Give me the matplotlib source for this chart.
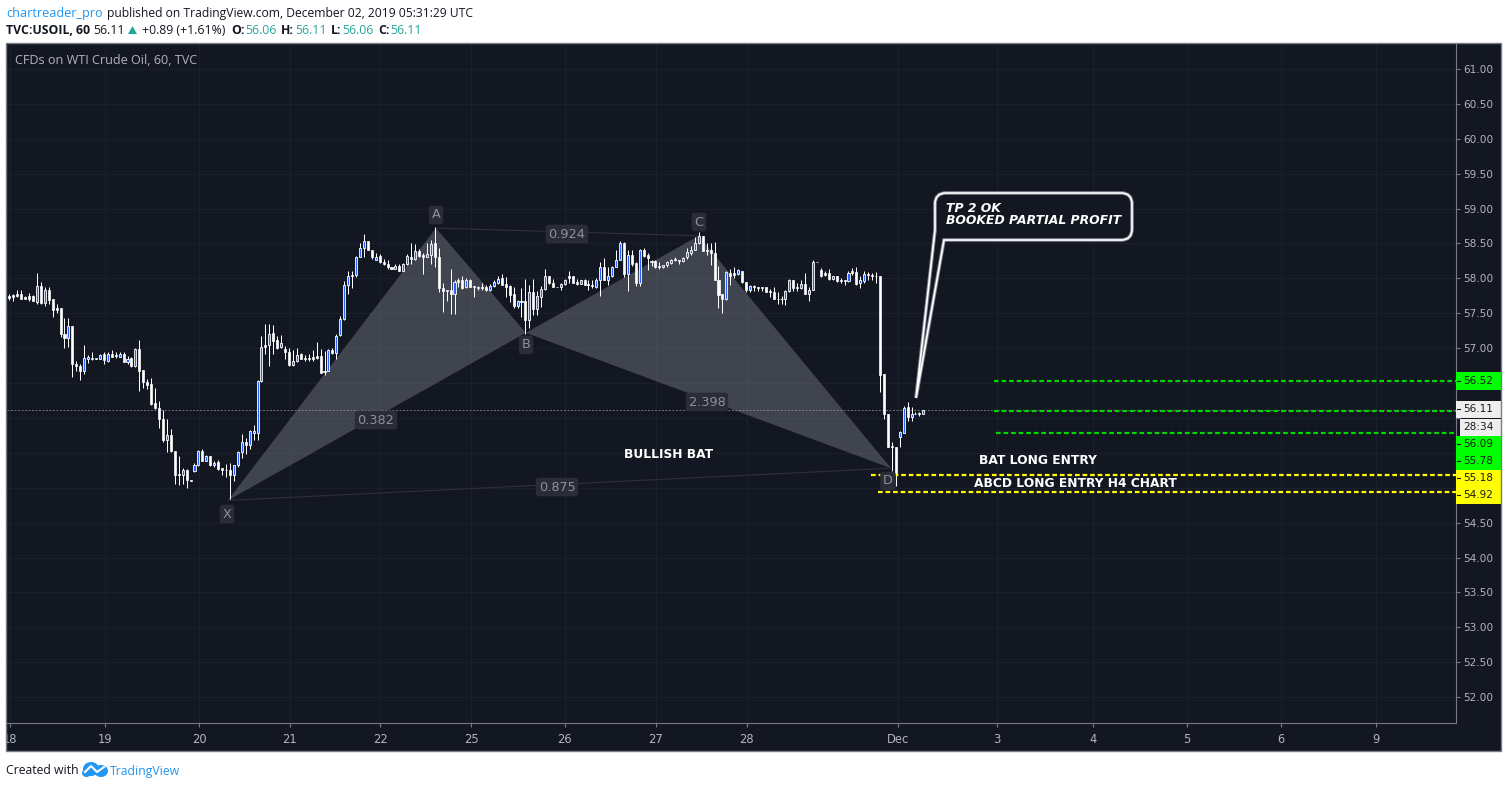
import numpy as np
import matplotlib
matplotlib.use("Agg")
import matplotlib.pyplot as plt
from matplotlib.patches import Rectangle, Polygon, PathPatch, Ellipse
from matplotlib.path import Path

# hourly candles
opens = [
    57.75, 57.76, 57.78, 57.78, 57.74, 57.75, 57.75, 57.66, 57.89, 57.65,
    57.83, 57.70, 57.58, 57.58, 57.20, 57.14, 57.32, 56.77, 56.75, 56.68,
    56.85, 56.86, 56.86, 56.85, 56.91, 56.82, 56.91, 56.90, 56.88, 56.92,
    56.80, 56.86, 56.75, 56.99, 56.69, 56.52, 56.49, 56.21, 56.15, 55.98,
    55.68, 55.75, 55.52, 55.20, 55.19, 55.26, 55.11, 55.24, 55.32, 55.53,
    55.39, 55.46, 55.32, 55.37, 55.28, 55.26, 55.26, 55.19, 55.32, 55.51,
    55.65, 55.61, 55.78, 55.78, 56.53, 57.04, 57.04, 57.22, 57.12, 57.01,
    56.99, 56.95, 56.76, 56.81, 56.91, 56.86, 56.86, 56.87, 56.89, 56.89,
    56.68, 56.68, 56.98, 56.93, 57.19, 57.42, 57.90, 58.05, 58.05, 58.30,
    58.43, 58.53, 58.41, 58.27, 58.32, 58.24, 58.21, 58.17, 58.14, 58.18,
    58.11, 58.20, 58.31, 58.28, 58.39, 58.34, 58.30, 58.34, 58.50, 58.30,
    57.86, 57.83, 57.83, 57.77, 57.97, 57.98, 57.88, 57.98, 57.89, 57.88,
    57.87, 57.88, 57.83, 57.89, 57.94, 58.00, 57.92, 57.89, 57.77, 57.60,
    57.67, 57.67, 57.40, 57.81, 57.56, 57.74, 57.85, 58.03, 57.93, 57.88,
    57.87, 57.92, 58.03, 58.03, 57.95, 57.92, 57.97, 57.92, 57.91, 57.87,
    57.97, 58.17, 57.97, 58.03, 58.16, 58.27, 58.50, 58.06, 58.33, 58.22,
    57.94, 58.41, 58.33, 58.25, 58.25, 58.18, 58.16, 58.19, 58.22, 58.27,
    58.26, 58.25, 58.30, 58.37, 58.40, 58.50, 58.61, 58.41, 58.41, 58.37,
    57.98, 57.77, 57.70, 58.08, 58.07, 58.06, 58.10, 57.95, 57.83, 57.89,
    57.87, 57.88, 57.87, 57.82, 57.81, 57.71, 57.70, 57.70, 57.82, 57.97,
    57.87, 57.86, 57.92, 57.78, 57.84, 58.24, 58.12, 58.07, 58.07, 57.99,
    58.04, 57.97, 57.97, 57.96, 58.10, 58.09, 57.93, 57.96, 58.06, 58.05,
    58.04, 58.04, 56.63, 56.06, 55.60, 55.59, 55.73, 55.79, 56.16, 56.01,
    56.06, 56.06, 56.06,
]
highs = [
    57.78, 57.78, 57.83, 57.84, 57.75, 57.79, 57.76, 58.07, 57.95, 57.88,
    57.87, 57.71, 57.64, 57.58, 57.43, 57.43, 57.32, 56.82, 56.78, 57.04,
    56.90, 56.95, 56.86, 56.92, 56.95, 56.95, 56.97, 56.94, 56.94, 56.95,
    56.89, 56.87, 57.00, 57.12, 56.69, 56.56, 56.57, 56.43, 56.24, 56.12,
    55.98, 55.84, 55.52, 55.46, 55.29, 55.27, 55.11, 55.35, 55.54, 55.55,
    55.47, 55.46, 55.39, 55.40, 55.29, 55.34, 55.36, 55.33, 55.53, 55.77,
    55.71, 55.83, 55.90, 56.54, 57.17, 57.35, 57.35, 57.33, 57.17, 57.19,
    57.03, 57.00, 56.97, 57.00, 56.93, 56.90, 56.92, 56.98, 57.09, 56.99,
    56.96, 56.99, 57.00, 57.21, 57.46, 57.96, 58.11, 58.10, 58.32, 58.50,
    58.64, 58.54, 58.41, 58.36, 58.35, 58.28, 58.26, 58.17, 58.21, 58.20,
    58.22, 58.35, 58.51, 58.49, 58.42, 58.36, 58.50, 58.55, 58.73, 58.43,
    57.94, 57.84, 58.14, 57.97, 58.01, 58.04, 58.01, 57.99, 57.89, 57.89,
    57.94, 57.90, 57.92, 57.97, 58.03, 58.06, 58.02, 57.90, 57.87, 57.69,
    57.86, 57.99, 57.90, 57.99, 57.82, 57.89, 58.13, 58.04, 57.99, 57.88,
    57.93, 57.99, 58.11, 58.04, 57.99, 57.98, 57.99, 57.97, 57.97, 58.00,
    58.24, 58.29, 58.16, 58.18, 58.40, 58.53, 58.52, 58.41, 58.40, 58.23,
    58.42, 58.44, 58.36, 58.27, 58.27, 58.24, 58.19, 58.25, 58.28, 58.31,
    58.27, 58.30, 58.43, 58.46, 58.59, 58.66, 58.61, 58.50, 58.51, 58.52,
    58.18, 57.77, 58.10, 58.14, 58.16, 58.13, 58.11, 57.95, 57.90, 57.90,
    57.87, 57.88, 57.87, 57.85, 57.87, 57.80, 57.75, 57.84, 57.99, 57.98,
    57.93, 57.97, 58.07, 57.88, 58.26, 58.24, 58.15, 58.11, 58.13, 58.04,
    58.04, 58.00, 57.97, 58.10, 58.15, 58.16, 58.04, 58.11, 58.09, 58.08,
    58.09, 58.04, 56.63, 56.06, 55.66, 55.59, 55.82, 56.17, 56.23, 56.16,
    56.08, 56.09, 56.11,
]
lows = [
    57.69, 57.68, 57.73, 57.71, 57.70, 57.68, 57.67, 57.64, 57.63, 57.61,
    57.63, 57.45, 57.51, 57.16, 57.00, 57.02, 56.59, 56.68, 56.54, 56.63,
    56.79, 56.83, 56.85, 56.84, 56.77, 56.80, 56.87, 56.86, 56.87, 56.80,
    56.77, 56.73, 56.73, 56.39, 56.43, 56.42, 56.18, 56.13, 55.86, 55.65,
    55.51, 55.51, 55.05, 55.04, 55.05, 54.99, 55.10, 55.22, 55.31, 55.38,
    55.38, 55.31, 55.30, 55.26, 55.18, 55.15, 54.84, 55.10, 55.30, 55.42,
    55.48, 55.55, 55.69, 55.69, 56.52, 56.92, 56.74, 56.92, 56.99, 57.00,
    56.84, 56.75, 56.75, 56.80, 56.84, 56.81, 56.81, 56.81, 56.85, 56.65,
    56.61, 56.68, 56.92, 56.84, 57.18, 57.40, 57.77, 57.86, 58.02, 58.30,
    58.31, 58.40, 58.28, 58.26, 58.22, 58.19, 58.14, 58.14, 58.13, 58.11,
    58.11, 58.19, 58.20, 58.27, 58.30, 58.06, 58.30, 58.21, 58.16, 57.80,
    57.52, 57.68, 57.49, 57.49, 57.87, 57.85, 57.86, 57.87, 57.74, 57.83,
    57.84, 57.82, 57.82, 57.88, 57.92, 57.90, 57.73, 57.66, 57.58, 57.58,
    57.45, 57.20, 57.29, 57.48, 57.48, 57.59, 57.84, 57.92, 57.87, 57.87,
    57.84, 57.91, 57.93, 57.94, 57.90, 57.92, 57.90, 57.83, 57.86, 57.86,
    57.75, 57.97, 57.90, 58.02, 58.16, 58.26, 58.02, 57.82, 58.18, 57.89,
    57.89, 58.31, 58.12, 58.18, 58.15, 58.14, 58.15, 58.17, 58.21, 58.25,
    58.20, 58.24, 58.28, 58.33, 58.40, 58.49, 58.39, 58.33, 58.19, 57.97,
    57.57, 57.51, 57.69, 57.90, 58.01, 58.05, 57.94, 57.81, 57.81, 57.82,
    57.82, 57.82, 57.81, 57.74, 57.70, 57.64, 57.63, 57.62, 57.81, 57.82,
    57.82, 57.85, 57.77, 57.67, 57.83, 58.23, 58.02, 58.03, 57.98, 57.98,
    57.95, 57.94, 57.91, 57.95, 58.05, 57.91, 57.86, 57.93, 57.97, 57.97,
    57.93, 56.37, 55.98, 55.58, 55.24, 55.03, 55.59, 55.79, 55.96, 55.96,
    56.05, 56.03, 56.06,
]
closes = [
    57.72, 57.74, 57.75, 57.71, 57.71, 57.71, 57.68, 57.89, 57.65, 57.83,
    57.69, 57.55, 57.54, 57.20, 57.14, 57.32, 56.77, 56.74, 56.68, 56.86,
    56.87, 56.84, 56.85, 56.90, 56.83, 56.92, 56.88, 56.89, 56.92, 56.80,
    56.85, 56.75, 56.99, 56.68, 56.51, 56.47, 56.20, 56.14, 55.98, 55.68,
    55.75, 55.52, 55.19, 55.19, 55.26, 55.11, 55.10, 55.32, 55.52, 55.39,
    55.45, 55.32, 55.36, 55.27, 55.26, 55.25, 55.19, 55.32, 55.51, 55.65,
    55.61, 55.81, 55.81, 56.53, 57.02, 57.02, 57.21, 57.11, 57.00, 57.07,
    56.94, 56.76, 56.81, 56.90, 56.85, 56.84, 56.84, 56.85, 56.86, 56.65,
    56.66, 56.98, 56.93, 57.18, 57.42, 57.90, 58.03, 58.03, 58.30, 58.43,
    58.53, 58.40, 58.30, 58.31, 58.23, 58.20, 58.17, 58.14, 58.18, 58.11,
    58.21, 58.32, 58.28, 58.39, 58.32, 58.30, 58.35, 58.49, 58.30, 57.86,
    57.82, 57.82, 57.77, 57.95, 57.95, 57.86, 57.98, 57.87, 57.88, 57.86,
    57.86, 57.83, 57.89, 57.95, 57.99, 57.90, 57.88, 57.76, 57.60, 57.67,
    57.66, 57.40, 57.81, 57.56, 57.75, 57.85, 58.03, 57.93, 57.88, 57.87,
    57.92, 57.98, 58.00, 57.94, 57.92, 57.97, 57.91, 57.90, 57.89, 57.97,
    58.17, 57.97, 58.04, 58.16, 58.27, 58.50, 58.06, 58.33, 58.20, 57.94,
    58.41, 58.32, 58.29, 58.23, 58.16, 58.17, 58.19, 58.23, 58.27, 58.28,
    58.25, 58.29, 58.38, 58.41, 58.50, 58.61, 58.39, 58.39, 58.36, 57.97,
    57.76, 57.70, 58.09, 58.04, 58.05, 58.12, 57.95, 57.83, 57.89, 57.87,
    57.86, 57.86, 57.81, 57.80, 57.71, 57.70, 57.70, 57.82, 57.97, 57.86,
    57.86, 57.92, 57.78, 57.84, 58.24, 58.23, 58.04, 58.05, 57.99, 58.04,
    57.96, 57.96, 57.96, 58.08, 58.07, 57.92, 57.97, 58.06, 58.05, 58.04,
    58.03, 56.62, 56.06, 55.59, 55.58, 55.20, 55.80, 56.15, 56.01, 56.06,
    56.06, 56.07, 56.11,
]

# harmonic pattern points: bar number, price
pattern_names = ["X", "A", "B", "C", "D"]
pattern_bars = [55.5, 108.3, 131.1, 175.0, 223.8]
pattern_prices = [54.82, 58.72, 57.22, 58.61, 55.28]

day_labels = ["18", "19", "20", "21", "22", "25", "26", "27", "28", "Dec",
              "3", "4", "5", "6", "9"]
day_bars = [0.25, 24.4, 48.2, 71.2, 94.1, 117.2, 141.0, 164.1, 187.2, 225.6,
            250.7, 275.0, 298.9, 322.7, 346.8]
price_ticks = [52 + 0.5 * i for i in range(19)]
# these four sit under the coloured price tags
hidden_ticks = [55.0, 55.5, 56.0, 56.5]

green_levels = [56.53, 56.10, 55.78]
green_starts = [250.0, 250.0, 250.4]
yellow_levels = [55.18, 54.94]
yellow_starts = [218.7, 220.5]
last_price = 56.11

BG = "#131722"
GRID = "#1b1f2b"
FRAME = "#787b86"
AXTEXT = "#b2b5be"
TEAL = "#26a69a"
BLUE = "#2196f3"
W, H = 1508, 788


def fx(x):
    return x / W


def fy(y):
    return 1 - y / H


def label(x, y, s, **kw):
    kw.setdefault("family", "Open Sans")
    kw.setdefault("fontsize", 8.8)
    kw.setdefault("va", "center")
    return fig.text(fx(x), fy(y), s, **kw)


fig = plt.figure(figsize=(W / 100, H / 100), dpi=100, facecolor="white")

# dark panel behind chart and both axes
fig.add_artist(Rectangle((fx(6), fy(751)), fx(1495), 708 / H, transform=fig.transFigure,
                         facecolor=BG, edgecolor="none", zorder=-1))

ax = fig.add_axes([fx(7), fy(723), fx(1449), 679 / H])
ax.set_facecolor(BG)
ax.set_xlim(-0.59, 367.2)
ax.set_ylim(51.63, 61.358)

ax.set_xticks(day_bars)
ax.set_xticklabels(day_labels, family="DejaVu Sans", fontsize=8.3, color=AXTEXT)
ax.set_yticks(price_ticks)
ax.set_yticklabels(["" if p in hidden_ticks else "%.2f" % p for p in price_ticks],
                   family="DejaVu Sans", fontsize=7.6, color=AXTEXT)
ax.yaxis.tick_right()
ax.tick_params(axis="x", length=3, width=0.8, color=FRAME, pad=4)
ax.tick_params(axis="y", length=3, width=0.8, color=FRAME, pad=2)
ax.grid(True, color=GRID, linewidth=0.8, zorder=0)
ax.set_axisbelow(True)
ax.spines["top"].set_visible(False)
ax.spines["left"].set_visible(False)
ax.spines["bottom"].set_color(FRAME)
ax.spines["right"].set_color(FRAME)

# last price line
ax.axhline(last_price, color="#6f727c", linewidth=0.7, linestyle=(0, (2, 1.6)), zorder=1)

# bat pattern goes under the candles
pts = list(zip(pattern_bars, pattern_prices))
PFILL = (0.6, 0.61, 0.65, 0.34)
ax.add_patch(Polygon([pts[0], pts[1], pts[2]], closed=True, facecolor=PFILL, edgecolor="none", zorder=1.5))
ax.add_patch(Polygon([pts[2], pts[3], pts[4]], closed=True, facecolor=PFILL, edgecolor="none", zorder=1.5))
for i, j in [(1, 3), (0, 4)]:
    ax.plot([pts[i][0], pts[j][0]], [pts[i][1], pts[j][1]], color="#2e313b", linewidth=0.8, zorder=1.5)

# candles
o = np.array(opens)
h = np.array(highs)
l = np.array(lows)
c = np.array(closes)
bars = np.arange(len(o))
up = c >= o
ax.vlines(bars, l, h, color="white", linewidth=0.72, zorder=2)
ax.bar(bars[~up], (o - c)[~up], bottom=c[~up], width=0.52, color="white",
       edgecolor="white", linewidth=0.5, zorder=3)
ax.bar(bars[up], (c - o)[up], bottom=o[up], width=0.52, color="#2962ff",
       edgecolor="white", linewidth=0.6, zorder=3)

box = dict(boxstyle="round,pad=0.22,rounding_size=0.25", facecolor="#2a2d38", edgecolor="none")
for s, x, y in [("A", 436, 215), ("B", 526, 345), ("C", 699, 222), ("X", 227, 514), ("D", 888, 481),
                ("0.382", 376, 420), ("0.924", 567, 234), ("2.398", 707, 402), ("0.875", 557, 487)]:
    label(x, y, s, family="DejaVu Sans", fontsize=9.3, color="#8e919a", ha="center", bbox=box, zorder=6)

# entry and target levels
dash = (0, (2.1, 1.3))
for lv, st in zip(green_levels, green_starts):
    ax.plot([st, 367.2], [lv, lv], color="#00d800", linewidth=1.6, linestyle=dash, zorder=5)
for lv, st in zip(yellow_levels, yellow_starts):
    ax.plot([st, 367.2], [lv, lv], color="#ffff00", linewidth=1.6, linestyle=dash, zorder=5)

# notes on the chart
label(15, 60, "CFDs on WTI Crude Oil, 60, TVC", fontsize=9.05, color=AXTEXT, zorder=6)
bold = dict(family="DejaVu Sans", fontweight="bold", fontsize=8.85, color="white", ha="center", zorder=6)
label(669, 454, "BULLISH BAT", **bold)
label(1038, 460, "BAT LONG ENTRY", **bold)
label(1075, 484, "ABCD LONG ENTRY H4 CHART", **bold)

# callout
verts = [(946, 193), (1121, 193), (1132, 193), (1132, 204), (1132, 229), (1132, 240), (1121, 240),
         (944, 240), (916, 398), (935, 230), (935, 204), (935, 193), (946, 193)]
codes = [Path.MOVETO, Path.LINETO, Path.CURVE3, Path.CURVE3, Path.LINETO, Path.CURVE3, Path.CURVE3,
         Path.LINETO, Path.LINETO, Path.LINETO, Path.LINETO, Path.CURVE3, Path.CURVE3]
call = Path([(fx(a), fy(b)) for a, b in verts], codes)
fig.add_artist(PathPatch(call, transform=fig.transFigure, facecolor=BG, edgecolor="#80838c", linewidth=2.6, zorder=6))
fig.add_artist(PathPatch(call, transform=fig.transFigure, facecolor="none", edgecolor="white", linewidth=1.2, zorder=6))
note = dict(family="DejaVu Sans", fontweight="bold", style="italic", fontsize=8.95, color="white", zorder=7)
label(946, 209, "TP 2 OK", **note)
label(946, 221, "BOOKED PARTIAL PROFIT", **note)

# price labels on the scale
for y0, y1, col, x0 in [(372, 390, "#00ff00", 1456), (401, 418, "#eeeeee", 1456), (419, 436, "#eeeeee", 1460),
                        (436, 470, "#00ff00", 1456), (470, 504, "#ffff00", 1456)]:
    fig.add_artist(Rectangle((fx(x0), fy(y1)), fx(1501 - x0), (y1 - y0) / H, transform=fig.transFigure,
                             facecolor=col, edgecolor="none", zorder=6))
for y, s in [(381, "56.52"), (409, "56.11"), (427, "28:34"), (444, "56.09"), (461, "55.78"),
             (478, "55.18"), (495, "54.92")]:
    label(1478, y, s, family="DejaVu Sans", fontsize=7.6, color="#1a1a1a", ha="center", zorder=7)
for y in [381, 409, 444, 461, 478, 495]:
    fig.add_artist(plt.Line2D([fx(1457), fx(1460)], [fy(y), fy(y)], transform=fig.transFigure,
                              color="#131722", linewidth=0.8, zorder=7))

# white strip hides the clipped part of the first date, then the frame on top
fig.add_artist(Rectangle((0, fy(751)), fx(6), 28 / H, transform=fig.transFigure, facecolor="white",
                         edgecolor="none", zorder=8))
fig.add_artist(Rectangle((fx(6), fy(751)), fx(1495), 708 / H, transform=fig.transFigure, facecolor="none",
                         edgecolor=FRAME, linewidth=1.0, zorder=9))

# header
label(6, 13, "chartreader_pro", color=BLUE, fontsize=9.1)
label(107, 13, "published on TradingView.com, December 02, 2019 05:31:29 UTC", color="#131722", fontsize=8.75)
label(6, 30, "TVC:USOIL, 60", color="#131722", fontweight="bold")
label(93, 30, "56.11", color="#131722")
fig.add_artist(Polygon([(fx(128), fy(34)), (fx(137), fy(34)), (fx(132.5), fy(26))], transform=fig.transFigure,
                       facecolor=TEAL, edgecolor="none"))
label(142, 30, "+0.89 (+1.61%)", color="#131722")
for x, s in [(231, "O:"), (281, "H:"), (331, "L:"), (378, "C:")]:
    label(x, 30, s, color="#131722", fontweight="bold")
for x, s in [(245, "56.06"), (295, "56.11"), (342, "56.06"), (390, "56.11")]:
    label(x, 30, s, color=TEAL)

# footer
label(6, 771, "Created with", color="#131722")
cloud = "#2196f3"
fig.add_artist(Ellipse((fx(91), fy(769)), 16 / W, 14 / H, transform=fig.transFigure, facecolor=cloud, edgecolor="none"))
fig.add_artist(Ellipse((fx(101), fy(771)), 14 / W, 12 / H, transform=fig.transFigure, facecolor=cloud, edgecolor="none"))
fig.add_artist(Ellipse((fx(86.5), fy(773)), 9 / W, 8 / H, transform=fig.transFigure, facecolor=cloud, edgecolor="none"))
fig.add_artist(plt.Line2D([fx(85), fx(91), fx(97), fx(104)], [fy(772), fy(766), fy(772), fy(767)],
                          transform=fig.transFigure, color="white", linewidth=1.5))
label(110, 771, "TradingView", color=BLUE)

fig.savefig("out.png", dpi=100)
